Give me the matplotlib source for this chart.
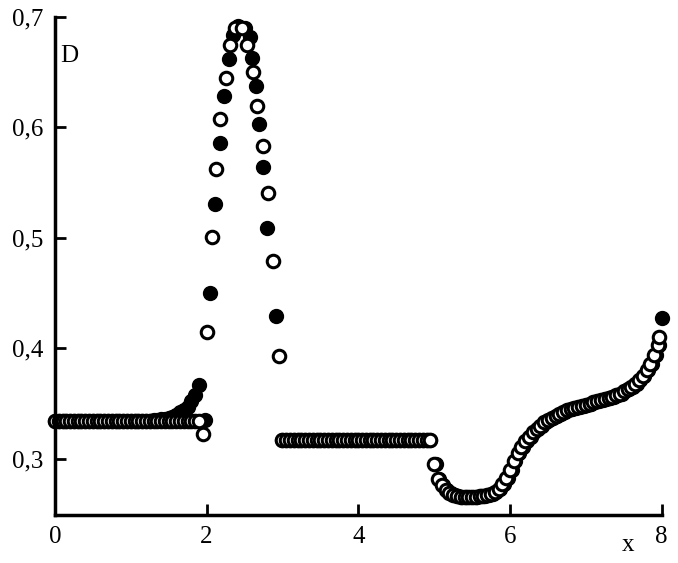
import numpy as np
from matplotlib import pyplot as plt

plt.rcParams['font.family'] = ['Liberation Serif', 'DejaVu Serif']

# left plateau
x_left = np.round(np.arange(0.0, 1.95, 0.05), 2)
d_open_left = [0.334] * len(x_left)
d_fill_left = [0.334] * 26 + [0.335, 0.335, 0.336, 0.336, 0.337, 0.338, 0.340, 0.342,
                              0.344, 0.347, 0.352, 0.358, 0.367]

# peak
x_peak_fill = [1.98, 2.04, 2.11, 2.17, 2.23, 2.29, 2.35, 2.42, 2.50, 2.57, 2.60, 2.65, 2.69, 2.74, 2.79, 2.91]
d_peak_fill = [0.335, 0.450, 0.531, 0.586, 0.628, 0.662, 0.684, 0.692, 0.690, 0.682, 0.663, 0.637,
               0.603, 0.564, 0.509, 0.429]
x_peak_open = [1.95, 2.00, 2.07, 2.13, 2.17, 2.25, 2.31, 2.38, 2.46, 2.53, 2.61, 2.66, 2.74, 2.81, 2.87, 2.95]
d_peak_open = [0.322, 0.415, 0.501, 0.562, 0.608, 0.645, 0.675, 0.690, 0.690, 0.675, 0.650, 0.619,
               0.583, 0.541, 0.479, 0.393]

# middle plateau
x_mid = np.round(np.arange(3.0, 5.0, 0.05), 2)
d_mid = [0.317] * len(x_mid)

# dip and rise
x_right = np.round(np.arange(5.0, 7.96, 0.05), 2)
d_right = [0.295, 0.282, 0.276, 0.272, 0.269, 0.267, 0.266, 0.265, 0.265, 0.265,
           0.265, 0.265, 0.266, 0.266, 0.267, 0.268, 0.270, 0.273, 0.277, 0.283,
           0.290, 0.298, 0.305, 0.311, 0.316, 0.320, 0.324, 0.327, 0.330, 0.333,
           0.335, 0.337, 0.339, 0.341, 0.342, 0.344, 0.345, 0.346, 0.347, 0.348,
           0.349, 0.350, 0.351, 0.352, 0.353, 0.354, 0.355, 0.356, 0.358, 0.359,
           0.361, 0.363, 0.365, 0.368, 0.371, 0.375, 0.380, 0.386, 0.394, 0.403]
x_end_open, d_end_open = [7.97], [0.410]
x_end_fill, d_end_fill = [8.0], [0.427]

fig = plt.figure(figsize=(6.78, 5.63), dpi=100)
ax = fig.add_axes([0.081, 0.085, 0.895, 0.885])

fill = dict(ls='none', marker='o', ms=10, mfc='black', mec='black', clip_on=False)
opn = dict(ls='none', marker='o', ms=9, mfc='white', mec='black', mew=2.2, clip_on=False)

ax.plot(x_left, d_fill_left, **fill)
ax.plot(x_peak_fill, d_peak_fill, **fill)
ax.plot(x_mid, d_mid, **fill)
ax.plot(x_right + 0.02, d_right, **fill)
ax.plot(x_end_fill, d_end_fill, **fill)

ax.plot(x_left, d_open_left, **opn)
ax.plot(x_peak_open, d_peak_open, **opn)
ax.plot(x_mid, d_mid, **opn)
ax.plot(x_right, d_right, **opn)
ax.plot(x_end_open, d_end_open, **opn)

ax.set_xlim(0, 8)
ax.set_ylim(0.249, 0.7)
ax.set_xticks([0, 2, 4, 6, 8])
ax.set_xticklabels(['0', '2', '4', '6', '8'])
ax.set_yticks([0.3, 0.4, 0.5, 0.6, 0.7])
ax.set_yticklabels(['0,3', '0,4', '0,5', '0,6', '0,7'])
ax.tick_params(direction='in', length=8, width=2, labelsize=18, pad=8)
ax.spines['top'].set_visible(False)
ax.spines['right'].set_visible(False)
for s in ['left', 'bottom']:
    ax.spines[s].set_linewidth(2.5)

ax.text(0.07, 0.665, 'D', fontsize=18, ha='left', va='center')
ax.text(7.55, 0.222, 'x', fontsize=18, ha='center', va='center')

fig.savefig('out.png')
